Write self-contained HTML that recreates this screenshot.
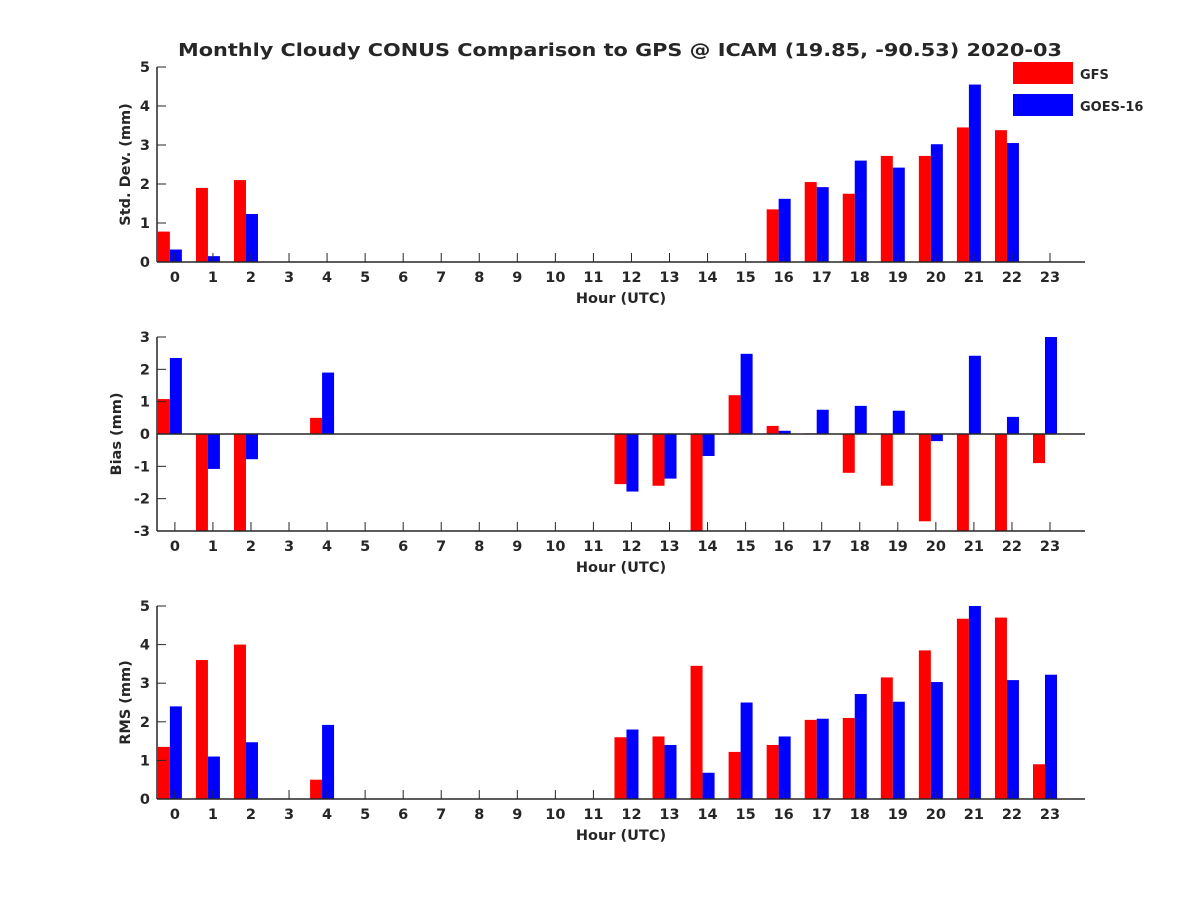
<!DOCTYPE html>
<html><head><meta charset="utf-8"><style>body{margin:0;background:#fff}text{font-family:"DejaVu Sans","Liberation Sans",sans-serif;font-weight:bold;fill:#262626}</style></head>
<body>
<svg id="c" width="1200" height="900"></svg>
<script>
const hours=[...Array(24).keys()];
const stdGFS=[0.78,1.9,2.1,0,0,0,0,0,0,0,0,0,0,0,0,0,1.35,2.05,1.75,2.72,2.72,3.45,3.38,0];
const stdGOES=[0.32,0.15,1.23,0,0,0,0,0,0,0,0,0,0,0,0,0,1.62,1.92,2.6,2.42,3.02,4.55,3.05,0];
const biasGFS=[1.08,-3.5,-3.95,0,0.5,0,0,0,0,0,0,0,-1.55,-1.6,-3.4,1.2,0.25,0.02,-1.2,-1.6,-2.7,-4.6,-4.7,-0.9];
const biasGOES=[2.35,-1.08,-0.78,0,1.9,0,0,0,0,0,0,0,-1.78,-1.38,-0.68,2.48,0.1,0.75,0.87,0.72,-0.22,2.42,0.53,3.0];
const rmsGFS=[1.35,3.6,4.0,0,0.5,0,0,0,0,0,0,0,1.6,1.62,3.45,1.22,1.4,2.05,2.1,3.15,3.85,4.67,4.7,0.9];
const rmsGOES=[2.4,1.1,1.47,0,1.92,0,0,0,0,0,0,0,1.8,1.4,0.68,2.5,1.62,2.08,2.72,2.52,3.03,5.0,3.08,3.22];
const stdTicks=[0,1,2,3,4,5],biasTicks=[-3,-2,-1,0,1,2,3],rmsTicks=[0,1,2,3,4,5];
const svg=document.getElementById('c');const NS='http://www.w3.org/2000/svg';
function mk(t,a,p){const e=document.createElementNS(NS,t);for(const k in a)e.setAttribute(k,a[k]);(p||svg).appendChild(e);return e;}
const X0=157,X1=1085,xmin=-0.47,xmax=23.92;
const xs=v=>X0+(v-xmin)/(xmax-xmin)*(X1-X0);
const t=mk('text',{x:620,y:56,'text-anchor':'middle','font-size':18,textLength:884,lengthAdjust:'spacingAndGlyphs'});t.textContent='Monthly Cloudy CONUS Comparison to GPS @ ICAM (19.85, -90.53) 2020-03';

function panel(name,top,bot,ymin,ymax,ticks,g1,g2,label,zero){
 const g=mk('g',{});
 const ys=v=>bot-(v-ymin)/(ymax-ymin)*(bot-top);
 const cp=mk('clipPath',{id:'cp'+name},g);mk('rect',{x:X0,y:top,width:X1-X0,height:bot-top},cp);
 const bg=mk('g',{'clip-path':'url(#cp'+name+')'},g);
 hours.forEach((h,i)=>{[[g1,'#ff0000',-17,'gfs'],[g2,'#0000ff',-5,'goes']].forEach(([arr,col,off,s])=>{
  const v=arr[i];if(!v)return;const y0=ys(0),y1=ys(v);
  const r=mk('rect',{x:xs(h)+off,y:Math.min(y0,y1),width:12,height:Math.abs(y1-y0),fill:col},bg);
  });});
 mk('line',{x1:X0,y1:bot,x2:X1,y2:bot,stroke:'#262626','stroke-width':1.5},g);
 mk('line',{x1:X0,y1:top,x2:X0,y2:bot,stroke:'#262626','stroke-width':1.5},g);
 if(zero)mk('line',{x1:X0,y1:ys(0),x2:X1,y2:ys(0),stroke:'#262626','stroke-width':1.5},g);
 ticks.forEach(v=>{mk('line',{x1:X0,y1:ys(v),x2:X0+9,y2:ys(v),stroke:'#262626'},g);
  const tx=mk('text',{x:X0-7,y:ys(v)+5,'text-anchor':'end','font-size':14.5},g);tx.textContent=v;});
 hours.forEach(h=>{mk('line',{x1:xs(h),y1:bot,x2:xs(h),y2:bot-9,stroke:'#262626'},g);
  const tx=mk('text',{x:xs(h),y:bot+20,'text-anchor':'middle','font-size':14.5},g);tx.textContent=h;});
 const xl=mk('text',{x:621,y:bot+41,'text-anchor':'middle','font-size':14.5},g);xl.textContent='Hour (UTC)';
 const yl=mk('text',{x:0,y:0,'text-anchor':'middle','font-size':14.5,transform:`translate(${name==='bias'?121:130},${(top+bot)/2}) rotate(-90)`},g);yl.textContent=label;
}
panel('std',67,262,0,5,stdTicks,stdGFS,stdGOES,'Std. Dev. (mm)',false);
panel('bias',337,531,-3,3,biasTicks,biasGFS,biasGOES,'Bias (mm)',true);
panel('rms',606,799,0,5,rmsTicks,rmsGFS,rmsGOES,'RMS (mm)',false);
const lg=mk('g',{});
mk('rect',{x:1013,y:62,width:60,height:22,fill:'#ff0000'},lg);mk('rect',{x:1013,y:94,width:60,height:22,fill:'#0000ff'},lg);
const l1=mk('text',{x:1080,y:79,'font-size':13},lg);l1.textContent='GFS';
const l2=mk('text',{x:1080,y:111,'font-size':13},lg);l2.textContent='GOES-16';
</script>
</body></html>
